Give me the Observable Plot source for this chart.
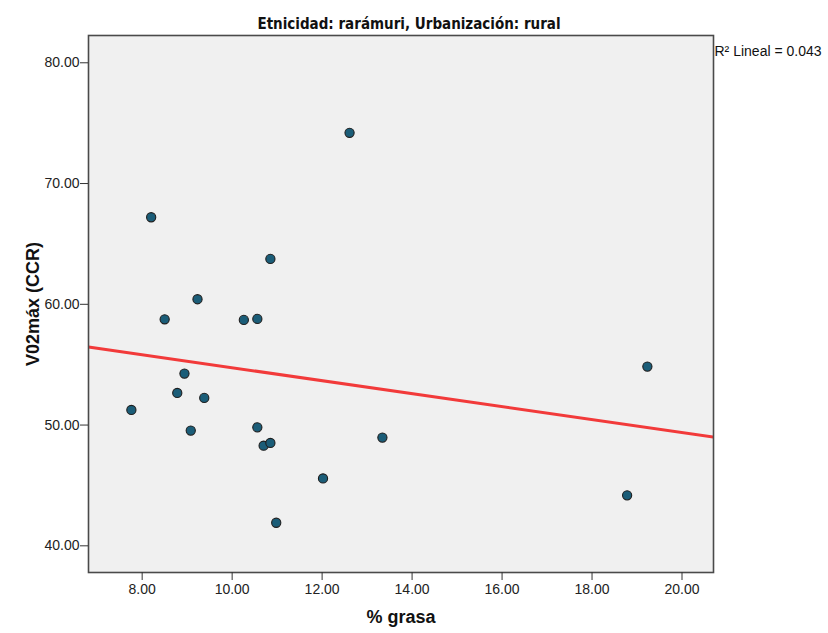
<!DOCTYPE html>
<html>
<head>
<meta charset="utf-8">
<script src="https://cdn.jsdelivr.net/npm/d3@7"></script>
<script src="https://cdn.jsdelivr.net/npm/@observablehq/plot@0.6"></script>
<style>
  html, body { margin: 0; padding: 0; background: #ffffff; }
  #chart svg { display: block; }
</style>
</head>
<body>
<div id="chart"></div>
<script>
// % grasa and V02máx (CCR) for each participant
const grasa = [8.20, 10.85, 9.23, 8.50, 10.26, 10.56, 8.94, 8.78, 9.38, 7.76,
               9.08, 10.56, 10.70, 10.85, 12.61, 12.02, 13.34, 10.98, 19.23, 18.78];
const vo2max = [67.21, 63.76, 60.42, 58.76, 58.71, 58.79, 54.26, 52.66, 52.25, 51.25,
                49.54, 49.81, 48.29, 48.52, 74.20, 45.58, 48.96, 41.91, 54.84, 44.18];

const xTicks = [8, 10, 12, 14, 16, 18, 20];
const yTicks = [40, 50, 60, 70, 80];

const titleText = "Etnicidad: rarámuri, Urbanización: rural";
const r2Text = "R² Lineal = 0.043";
const xLabel = "% grasa";
const yLabel = "V02máx (CCR)";

const points = grasa.map((g, i) => ({grasa: g, vo2: vo2max[i]}));

const xDomain = [6.807, 20.70];
const yDomain = [37.79, 82.26];

// Least-squares fit, drawn across the full x range of the frame
const mx = d3.mean(grasa), my = d3.mean(vo2max);
const sxy = d3.sum(points, p => (p.grasa - mx) * (p.vo2 - my));
const sxx = d3.sum(points, p => (p.grasa - mx) ** 2);
const slope = sxy / sxx;
const intercept = my - slope * mx;
const fit = xDomain.map(x => ({grasa: x, vo2: intercept + slope * x}));

const sans = "'Liberation Sans', Arial, sans-serif";
const narrow = "'Liberation Sans Narrow', 'Arial Narrow', 'DejaVu Sans Condensed', sans-serif";

const chart = Plot.plot({
  width: 828,
  height: 633,
  marginTop: 35,
  marginLeft: 88,
  marginRight: 115,
  marginBottom: 61,
  style: {fontFamily: sans, fontSize: "14px", color: "#222", background: "#ffffff"},
  x: {domain: xDomain},
  y: {domain: yDomain},
  marks: [
    Plot.frame({fill: "#f0f0f0", stroke: null}),
    Plot.line(fit, {x: "grasa", y: "vo2", stroke: "#f23a3a", strokeWidth: 3, clip: true}),
    Plot.dot(points, {x: "grasa", y: "vo2", r: 4.6, fill: "#1b5d78", stroke: "#1e1e1e", strokeWidth: 1.1}),
    Plot.frame({stroke: "#4a4a4a", strokeWidth: 1.6}),
    Plot.axisX({ticks: xTicks, tickFormat: d => d.toFixed(2), tickSize: 8, tickPadding: 4,
                stroke: "#333", fill: "#222", fontSize: 14, label: null}),
    Plot.axisY({ticks: yTicks, tickFormat: d => d.toFixed(2), tickSize: 8, tickPadding: 1,
                stroke: "#333", fill: "#222", fontSize: 14, label: null}),
    Plot.text([titleText], {frameAnchor: "top", dx: 8, dy: -17, text: d => d,
               fontFamily: narrow, fontWeight: "bold", fontSize: 15, fill: "#111"}),
    Plot.text([r2Text], {frameAnchor: "top-right", textAnchor: "start", dx: 1, dy: 11, text: d => d,
               fontFamily: sans, fontSize: 14, fill: "#111"}),
    Plot.text([xLabel], {frameAnchor: "bottom", textAnchor: "middle", dy: 50, text: d => d,
               fontFamily: sans, fontWeight: "bold", fontSize: 18, fill: "#111"}),
    Plot.text([yLabel], {frameAnchor: "left", textAnchor: "middle", dx: -55, rotate: -90, text: d => d,
               fontFamily: sans, fontWeight: "bold", fontSize: 18, fill: "#111"})
  ]
});

document.getElementById("chart").appendChild(chart);
</script>
</body>
</html>
